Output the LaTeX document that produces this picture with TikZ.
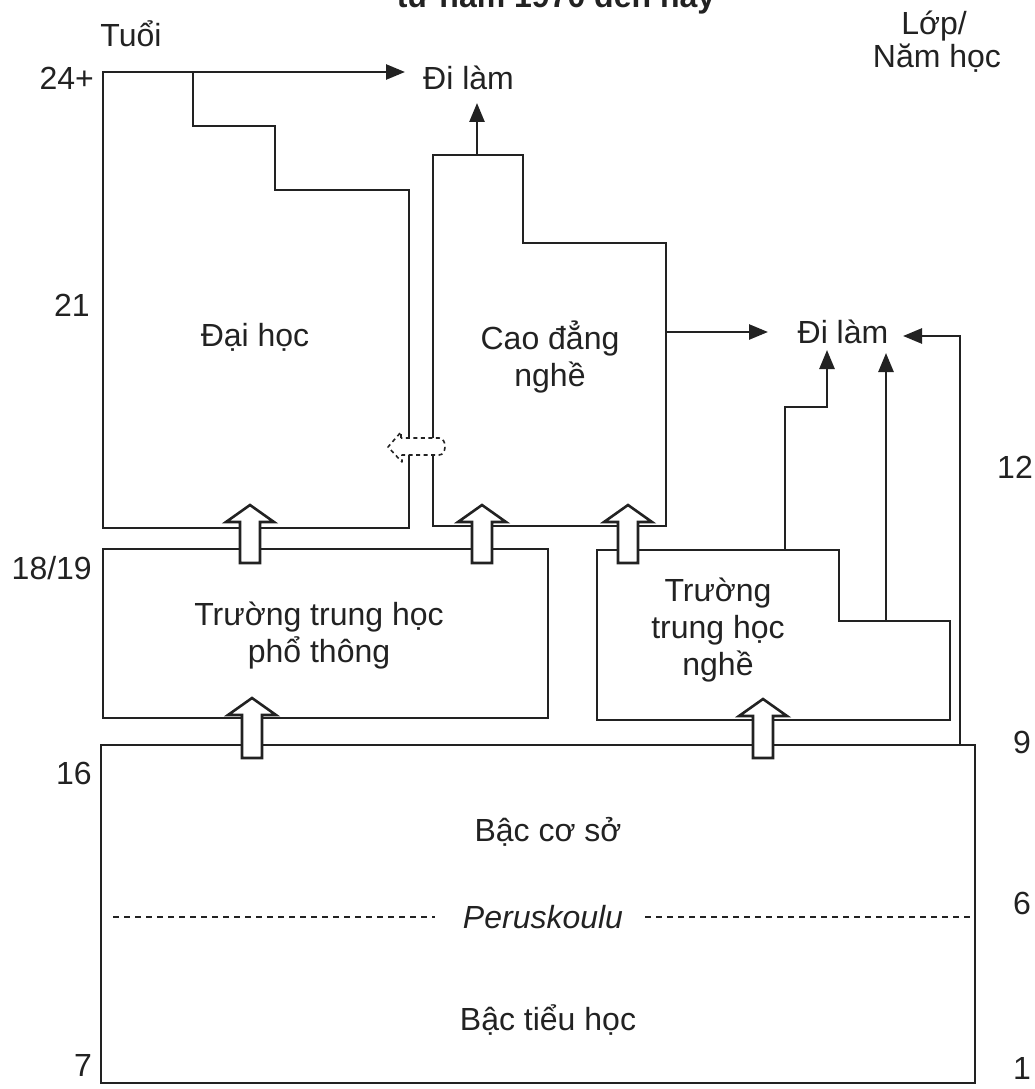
\documentclass[tikz,border=0pt]{standalone}
\usepackage{fontspec}
\setmainfont{Liberation Sans}
\usetikzlibrary{arrows.meta}
\definecolor{ink}{HTML}{222222}
\begin{document}
\begin{tikzpicture}[x=1pt,y=-1pt,
  box/.style={draw=ink,line width=2.6pt,line join=miter},
  lbl/.style={font=\fontsize{32}{37}\selectfont,text=ink,align=center,inner sep=0pt},
  num/.style={font=\fontsize{32}{37}\selectfont,text=ink,inner sep=0pt},
  arr/.style={draw=ink,line width=2.6pt,-{Triangle[length=19pt,width=15pt]}},
  hollow/.style={draw=ink,fill=white,line width=2.6pt,line join=miter},
  dashline/.style={draw=ink,line width=2pt,dash pattern=on 6pt off 5pt},
  pics/blockup/.style args={#1/#2}{code={
    \path[hollow] (-10,#2) -- (-10,#1+17) -- (-24,#1+17) -- (0,#1) -- (24,#1+17) -- (10,#1+17) -- (10,#2) -- cycle;}}
]
\useasboundingbox (0,0) rectangle (1034,1089);

% title (cut off at the top, as in the source)
\node[font=\bfseries\fontsize{32}{37}\selectfont,text=ink,anchor=base,inner sep=0pt] (title) at (556,8) {từ năm 1970 đến nay};

% axis labels
\node[lbl] (tuoi) at (131,34) {Tuổi};
\node[lbl] (lop) at (934,26) {Lớp/};
\node[lbl] (namhoc) at (937,58) {Năm học};
\node[num,anchor=east] (a24) at (94,78) {24+};
\node[num,anchor=east] (a21) at (90,305) {21};
\node[num,anchor=east] (a18) at (92,568) {18/19};
\node[num,anchor=east] (a16) at (92,773) {16};
\node[num,anchor=east] (a7) at (92,1065) {7};
\node[num] (g12) at (1015,467) {12};
\node[num] (g9) at (1022,742) {9};
\node[num] (g6) at (1022,903) {6};
\node[num] (g1) at (1022,1068) {1};

% key points
\coordinate (dhTop) at (193,72);
\coordinate (cdTop) at (477,155);
\coordinate (cdRight) at (666,332);
\coordinate (tnTop) at (785,550);
\coordinate (tnStep) at (886,621);
\coordinate (bsTop) at (960,745);

% boxes
\path[box] (409,438) -- (409,190) -- (275,190) -- (275,126) -- (193,126) -- (193,72)
  -- (103,72) -- (103,528) -- (409,528) -- (409,455);
\path[box] (433,438) -- (433,155) -- (523,155) -- (523,243) -- (666,243) -- (666,526)
  -- (433,526) -- (433,455);
\path[box] (103,549) rectangle (548,718);
\path[box] (597,550) -- (839,550) -- (839,621) -- (950,621) -- (950,720) -- (597,720) -- cycle;
\path[box] (101,745) rectangle (975,1083);

% dashed transfer shape between the two upper boxes
\path[draw=ink,line width=1.6pt,dash pattern=on 4pt off 3.5pt,line join=round]
  (401,438) -- (401,432) -- (388,447) -- (402,462) -- (402,455) -- (439,455)
  .. controls (447,455) and (447,438) .. (439,438) -- cycle;

% text in boxes
\node[lbl] (dh) at (255,337) {Đại học};
\node[lbl] (cd) at (550,357) {Cao đẳng\\nghề};
\node[lbl] (thpt) at (319,636) {Trường trung học\\phổ thông};
\node[lbl] (thn) at (718,630) {Trường\\trung học\\nghề};
\node[lbl] (bcs) at (548,832) {Bậc cơ sở};
\node[lbl] (bth) at (548,1020) {Bậc tiểu học};

% peruskoulu line
\node[lbl,font=\itshape\fontsize{32}{37}\selectfont] (per) at (543,917) {Peruskoulu};
\path[dashline] (113,917) -- ([xshift=-28pt]per.west);
\path[dashline] ([xshift=22pt]per.east) -- (973,917);

% work destinations
\node[lbl,anchor=west] (work1) at (423,78) {Đi làm};
\node[lbl] (work2) at (843,332) {Đi làm};

% arrows to work
\draw[arr] (dhTop) -- (405,72);
\draw[arr] (cdTop) -- (477,103);
\draw[arr] (cdRight) -- (768,332);
\draw[arr] (tnTop) -- (785,407) -- (827,407) -- (827,350);
\draw[arr] (tnStep) -- (886,353);
\draw[arr] (bsTop) -- (960,336) -- (903,336);

% hollow block arrows
\pic at (250,0) {blockup={505/563}};
\pic at (482,0) {blockup={505/563}};
\pic at (628,0) {blockup={505/563}};
\pic at (252,0) {blockup={698/758}};
\pic at (763,0) {blockup={699/758}};
\end{tikzpicture}
\end{document}
